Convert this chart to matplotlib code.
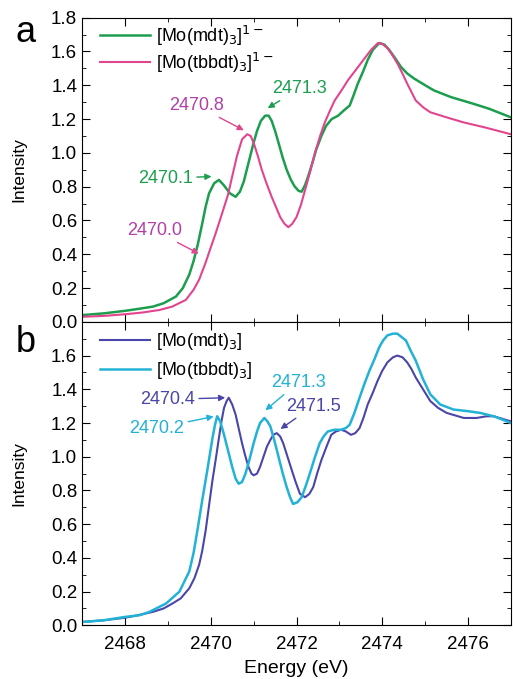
import numpy as np
import matplotlib
matplotlib.use("Agg")
import matplotlib.pyplot as plt
from matplotlib.ticker import MultipleLocator

plt.rcParams['font.family'] = ['Liberation Sans', 'DejaVu Sans']

# panel a: [Mo(mdt)3]1- and [Mo(tbbdt)3]1-
e_a_mdt = [2467.0, 2467.5, 2468.0, 2468.4, 2468.65, 2468.9, 2469.19, 2469.35, 2469.5, 2469.6,
           2469.7, 2469.8, 2469.88, 2469.96, 2470.08, 2470.19, 2470.3, 2470.45, 2470.58, 2470.68,
           2470.77, 2470.85, 2470.92, 2471.0, 2471.08, 2471.17, 2471.27, 2471.35, 2471.42, 2471.5,
           2471.58, 2471.68, 2471.77, 2471.87, 2471.96, 2472.05, 2472.12, 2472.2, 2472.27, 2472.37,
           2472.46, 2472.58, 2472.69, 2472.82, 2472.97, 2473.1, 2473.24, 2473.33, 2473.43, 2473.55,
           2473.66, 2473.78, 2473.93, 2474.05, 2474.16, 2474.3, 2474.43, 2474.58, 2474.74, 2475.0,
           2475.2, 2475.6, 2476.13, 2476.5, 2477.0]
i_a_mdt = [0.04, 0.05, 0.065, 0.08, 0.09, 0.11, 0.15, 0.20, 0.28, 0.36,
           0.46, 0.58, 0.68, 0.76, 0.82, 0.84, 0.81, 0.76, 0.74, 0.77,
           0.83, 0.91, 0.98, 1.06, 1.13, 1.19, 1.22, 1.22, 1.19, 1.13,
           1.06, 0.97, 0.90, 0.84, 0.80, 0.775, 0.77, 0.81, 0.86, 0.94,
           1.02, 1.10, 1.16, 1.20, 1.22, 1.25, 1.28, 1.34, 1.41, 1.48,
           1.55, 1.61, 1.65, 1.64, 1.61, 1.56, 1.51, 1.47, 1.44, 1.40,
           1.37, 1.33, 1.29, 1.26, 1.21]

e_a_tbb = [2467.0, 2467.5, 2468.0, 2468.4, 2468.8, 2469.1, 2469.42, 2469.6, 2469.73, 2469.88,
           2470.0, 2470.11, 2470.25, 2470.4, 2470.5, 2470.61, 2470.73, 2470.85, 2470.93,
           2471.0, 2471.1, 2471.19, 2471.3, 2471.42, 2471.52, 2471.62, 2471.72, 2471.81, 2471.9,
           2472.0, 2472.1, 2472.2, 2472.32, 2472.43, 2472.55, 2472.66, 2472.78, 2472.89, 2473.05,
           2473.2, 2473.35, 2473.5, 2473.62, 2473.74, 2473.9, 2474.0, 2474.12, 2474.23, 2474.35,
           2474.47, 2474.58, 2474.68, 2474.78, 2474.95, 2475.12, 2475.5, 2475.9, 2476.4, 2477.0]
i_a_tbb = [0.03, 0.035, 0.045, 0.055, 0.07, 0.09, 0.13, 0.19, 0.25, 0.35,
           0.44, 0.52, 0.63, 0.75, 0.86, 0.98, 1.08, 1.11, 1.10,
           1.06, 0.98, 0.90, 0.82, 0.74, 0.68, 0.62, 0.58, 0.56, 0.58,
           0.62, 0.69, 0.78, 0.89, 1.00, 1.10, 1.18, 1.25, 1.31, 1.37,
           1.43, 1.48, 1.53, 1.57, 1.61, 1.65, 1.645, 1.62, 1.58, 1.53,
           1.47, 1.41, 1.36, 1.31, 1.27, 1.24, 1.21, 1.18, 1.15, 1.11]

# panel b: [Mo(mdt)3] and [Mo(tbbdt)3]
e_b_mdt = [2467.0, 2467.5, 2468.0, 2468.3, 2468.65, 2468.9, 2469.11, 2469.3, 2469.5, 2469.62,
           2469.73, 2469.8, 2469.88, 2469.96, 2470.04, 2470.12, 2470.19, 2470.25, 2470.31,
           2470.37, 2470.42, 2470.5, 2470.58, 2470.65, 2470.73, 2470.8, 2470.88, 2470.95, 2471.0,
           2471.08, 2471.15, 2471.23, 2471.31, 2471.39, 2471.46, 2471.54, 2471.62, 2471.69, 2471.79,
           2471.89, 2471.98, 2472.08, 2472.2, 2472.3, 2472.39, 2472.48, 2472.58, 2472.7, 2472.81,
           2472.92, 2473.04, 2473.15, 2473.27, 2473.37, 2473.47, 2473.56, 2473.66, 2473.78, 2473.89,
           2474.0, 2474.12, 2474.25, 2474.35, 2474.47, 2474.58, 2474.68, 2474.78, 2474.95, 2475.12,
           2475.3, 2475.5, 2475.9, 2476.2, 2476.43, 2476.6, 2476.73, 2477.0]
i_b_mdt = [0.02, 0.03, 0.045, 0.06, 0.08, 0.10, 0.13, 0.16, 0.22, 0.28,
           0.36, 0.44, 0.56, 0.71, 0.86, 0.99, 1.11, 1.21, 1.29,
           1.33, 1.35, 1.31, 1.25, 1.17, 1.08, 1.01, 0.94, 0.90, 0.89,
           0.90, 0.94, 1.00, 1.06, 1.10, 1.13, 1.14, 1.12, 1.08, 1.00,
           0.92, 0.85, 0.78, 0.76, 0.78, 0.82, 0.90, 0.98, 1.06, 1.13,
           1.15, 1.16, 1.15, 1.13, 1.14, 1.17, 1.23, 1.31, 1.38, 1.45,
           1.51, 1.56, 1.59, 1.60, 1.59, 1.56, 1.52, 1.47, 1.40, 1.33,
           1.29, 1.26, 1.23, 1.23, 1.24, 1.24, 1.23, 1.21]

e_b_tbb = [2467.0, 2467.5, 2468.0, 2468.34, 2468.57, 2468.96, 2469.27, 2469.5, 2469.6, 2469.7,
           2469.8, 2469.92, 2470.04, 2470.1, 2470.15, 2470.22, 2470.31, 2470.4, 2470.5, 2470.58,
           2470.65, 2470.73, 2470.81, 2470.9, 2471.0, 2471.08, 2471.15, 2471.25, 2471.32, 2471.39,
           2471.48, 2471.58, 2471.68, 2471.77, 2471.85, 2471.92, 2472.02, 2472.12, 2472.22, 2472.31,
           2472.42, 2472.54, 2472.63, 2472.73, 2472.88, 2473.04, 2473.15, 2473.24, 2473.35, 2473.47,
           2473.58, 2473.7, 2473.82, 2473.93, 2474.02, 2474.12, 2474.25, 2474.35, 2474.45, 2474.55,
           2474.66, 2474.78, 2474.95, 2475.12, 2475.35, 2475.66, 2476.0, 2476.28, 2476.6, 2477.0]
i_b_tbb = [0.02, 0.03, 0.05, 0.06, 0.08, 0.13, 0.20, 0.32, 0.43, 0.58,
           0.74, 0.92, 1.11, 1.19, 1.24, 1.21, 1.13, 1.04, 0.94, 0.87,
           0.84, 0.85, 0.90, 0.98, 1.08, 1.15, 1.20, 1.23, 1.21, 1.18,
           1.10, 1.00, 0.90, 0.82, 0.76, 0.72, 0.73, 0.76, 0.83, 0.90,
           0.99, 1.08, 1.12, 1.15, 1.16, 1.16, 1.17, 1.19, 1.26, 1.35,
           1.43, 1.51, 1.58, 1.65, 1.69, 1.72, 1.73, 1.73, 1.71, 1.69,
           1.63, 1.57, 1.46, 1.37, 1.31, 1.28, 1.27, 1.26, 1.24, 1.20]

x_ticks = [2468, 2470, 2472, 2474, 2476]

green = '#1c9e4e'
pink = '#e2458e'
navy = '#4a45a8'
cyan = '#22b2d6'
purple_text = '#b13fa8'

fig = plt.figure(figsize=(5.13, 6.79), dpi=100)
ax_a = fig.add_axes([0.160, 0.526, 0.836, 0.448])
ax_b = fig.add_axes([0.160, 0.079, 0.836, 0.447], sharex=ax_a)

ax_a.plot(e_a_mdt, i_a_mdt, color=green, lw=1.8, label=r'[Mo(mdt)$_3$]$^{1-}$')
ax_a.plot(e_a_tbb, i_a_tbb, color=pink, lw=1.5, label=r'[Mo(tbbdt)$_3$]$^{1-}$')
ax_b.plot(e_b_mdt, i_b_mdt, color=navy, lw=1.5, label=r'[Mo(mdt)$_3$]')
ax_b.plot(e_b_tbb, i_b_tbb, color=cyan, lw=1.8, label=r'[Mo(tbbdt)$_3$]')

for ax in (ax_a, ax_b):
    ax.set_xlim(2467, 2477)
    ax.set_ylim(0, 1.8)
    ax.set_xticks(x_ticks)
    ax.xaxis.set_minor_locator(MultipleLocator(1))
    ax.yaxis.set_major_locator(MultipleLocator(0.2))
    ax.yaxis.set_minor_locator(MultipleLocator(0.1))
    ax.tick_params(which='both', direction='in', top=True, right=True, labelsize=13.5)
    ax.tick_params(which='major', length=6)
    ax.tick_params(which='minor', length=3)
    ax.set_ylabel('Intensity', fontsize=12.5, labelpad=18)

ax_a.legend(loc='upper left', frameon=False, fontsize=13, handlelength=2.8,
            handletextpad=0.3, borderaxespad=0.1, labelspacing=0.15,
            bbox_to_anchor=(0.02, 1.01))
ax_b.legend(loc='upper left', frameon=False, fontsize=13, handlelength=2.8,
            handletextpad=0.3, borderaxespad=0.1, labelspacing=0.45,
            bbox_to_anchor=(0.02, 1.0))

ax_a.tick_params(labelbottom=False)
ax_b.set_yticks(np.arange(0, 1.7, 0.2))
ax_b.tick_params(axis='x', pad=8)
ax_b.set_xlabel('Energy (eV)', fontsize=14, labelpad=5)

fig.text(0.030, 0.938, 'a', fontsize=26)
fig.text(0.030, 0.482, 'b', fontsize=26)

arrow = dict(arrowstyle='-|>', lw=1.0, mutation_scale=9, shrinkA=1, shrinkB=1)

# panel a labels
ax_a.annotate('2470.1', xy=(2470.05, 0.86), xytext=(2468.3, 0.85), color=green,
              fontsize=13, va='center', arrowprops=dict(arrow, color=green))
ax_a.annotate('2470.0', xy=(2469.75, 0.40), xytext=(2468.05, 0.54), color=purple_text,
              fontsize=13, va='center', arrowprops=dict(arrow, color=pink))
ax_a.annotate('2470.8', xy=(2470.8, 1.13), xytext=(2469.03, 1.28), color=purple_text,
              fontsize=13, va='center', arrowprops=dict(arrow, color=pink))
ax_a.annotate('2471.3', xy=(2471.3, 1.26), xytext=(2471.42, 1.38), color=green,
              fontsize=13, va='center', arrowprops=dict(arrow, color=green))

# panel b labels
ax_b.annotate('2470.4', xy=(2470.37, 1.35), xytext=(2468.35, 1.34), color=navy,
              fontsize=13, va='center', arrowprops=dict(arrow, color=navy))
ax_b.annotate('2470.2', xy=(2470.1, 1.24), xytext=(2468.1, 1.17), color=cyan,
              fontsize=13, va='center', arrowprops=dict(arrow, color=cyan))
ax_b.annotate('2471.3', xy=(2471.25, 1.27), xytext=(2471.4, 1.44), color=cyan,
              fontsize=13, va='center', arrowprops=dict(arrow, color=cyan))
ax_b.annotate('2471.5', xy=(2471.6, 1.16), xytext=(2471.75, 1.30), color=navy,
              fontsize=13, va='center', arrowprops=dict(arrow, color=navy))

fig.savefig('out.png', dpi=100)
plt.close(fig)
